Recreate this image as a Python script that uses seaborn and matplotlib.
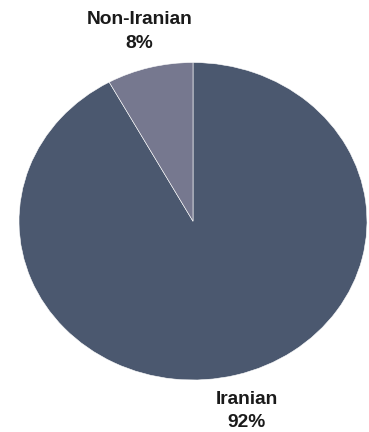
import matplotlib
matplotlib.use("Agg")
import matplotlib.pyplot as plt
import seaborn as sns

sns.set_theme(style="white")
plt.rcParams['font.family'] = ['Liberation Sans', 'DejaVu Sans']

categories = ["Iranian", "Non-Iranian"]
values = [92, 8]
colors = ["#4b586f", "#76788f"]

W, H = 369, 432
fig = plt.figure(figsize=(W / 100, H / 100), dpi=100)
fig.patch.set_facecolor("white")
# pie spans x 19..367 px, y 62.7..380 px
ax = fig.add_axes([19 / W, (H - 380) / H, 348 / W, 317.5 / H])

labels = [f"{c}\n{v}%" for c, v in zip(categories, values)]
wedges, texts = ax.pie(values, labels=labels, colors=colors, startangle=90,
                       counterclock=False, labeldistance=1.235,
                       wedgeprops=dict(edgecolor="white", linewidth=0.4),
                       textprops=dict(fontsize=13.8, fontweight="bold", color="#1a1a1a"))
for t in texts:
    t.set_horizontalalignment("center")
    t.set_verticalalignment("center")
    t.set_linespacing(1.5)
ax.set_aspect("auto")
ax.set_xlim(-1, 1)
ax.set_ylim(-1, 1)
ax.axis("off")

fig.savefig("out.png", dpi=100, facecolor="white")
